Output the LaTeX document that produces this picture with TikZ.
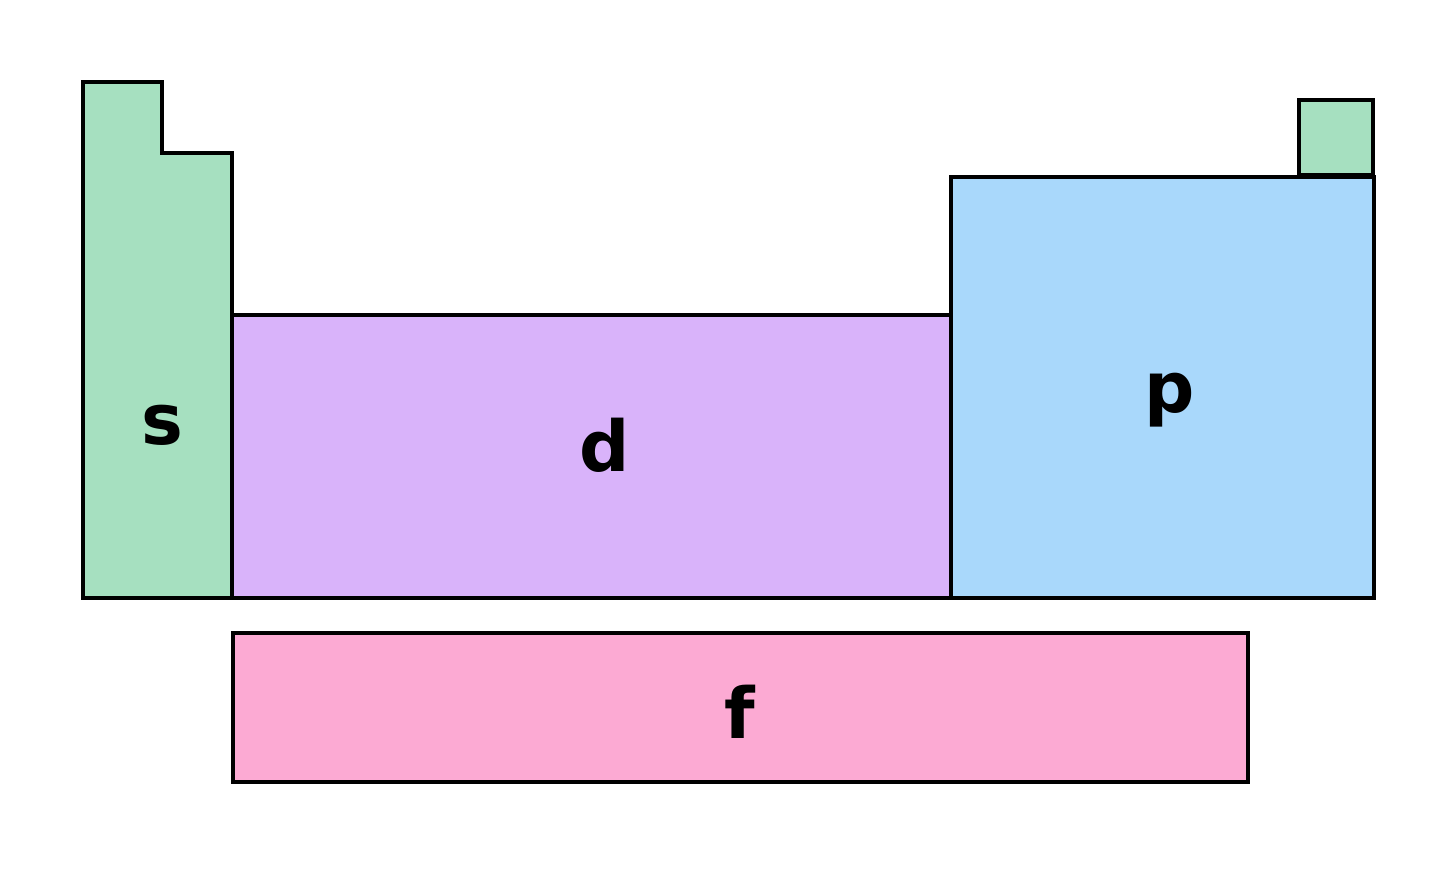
\documentclass[tikz,border=0pt]{standalone}
\usepackage{fontspec}
\setmainfont{DejaVu Sans}
\definecolor{sgreen}{HTML}{A6E0C0}
\definecolor{dpurple}{HTML}{D9B3FA}
\definecolor{pblue}{HTML}{A9D8FB}
\definecolor{fpink}{HTML}{FCAAD3}
\tikzset{
  block/.style={draw=black, line width=1.8pt, line join=miter},
  blocklabel/.style={font=\fontsize{40}{40}\selectfont\bfseries}
}
\begin{document}
\begin{tikzpicture}[x={(0.02cm,0)}, y={(0,-0.02cm)}]
\useasboundingbox (0,0) rectangle (1440,875);

% s block and helium
\filldraw[block, fill=sgreen] (83,82) -- (162,82) -- (162,153) -- (232,153) -- (232,598) -- (83,598) -- cycle;
\filldraw[block, fill=sgreen] (1299,100) rectangle (1373,175);

% d, p and f blocks
\filldraw[block, fill=dpurple] (232,315) rectangle (951,598);
\filldraw[block, fill=pblue] (951,177) rectangle (1374,598);
\filldraw[block, fill=fpink] (233,633) rectangle (1248,782);

\node[blocklabel] (slabel) at (162,425) {s};
\node[blocklabel] (dlabel) at (605,445) {d};
\node[blocklabel] (plabel) at (1170,400) {p};
\node[blocklabel] (flabel) at (740,712) {f};
\end{tikzpicture}
\end{document}
